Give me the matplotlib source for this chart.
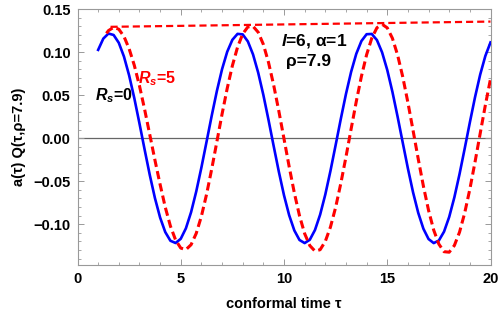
import matplotlib
matplotlib.use("Agg")
import matplotlib.pyplot as plt
from matplotlib.ticker import MultipleLocator, FixedLocator, FixedFormatter

# ---- data ----
tau_blue = [1.00, 1.25, 1.50, 1.75, 2.00, 2.25, 2.50, 2.75, 3.00, 3.25, 3.50, 3.75,
            4.00, 4.25, 4.50, 4.75, 5.00, 5.25, 5.50, 5.75, 6.00, 6.25, 6.50, 6.75,
            7.00, 7.25, 7.50, 7.75, 8.00, 8.25, 8.50, 8.75, 9.00, 9.25, 9.50, 9.75,
            10.00, 10.25, 10.50, 10.75, 11.00, 11.25, 11.50, 11.75, 12.00, 12.25, 12.50, 12.75,
            13.00, 13.25, 13.50, 13.75, 14.00, 14.25, 14.50, 14.75, 15.00, 15.25, 15.50, 15.75,
            16.00, 16.25, 16.50, 16.75, 17.00, 17.25, 17.50, 17.75, 18.00, 18.25, 18.50, 18.75,
            19.00, 19.25, 19.50, 19.75, 20.00]
a_Rs0 = [0.1027, 0.1158, 0.1217, 0.1200, 0.1109, 0.0949, 0.0730, 0.0466, 0.0172, -0.0132, -0.0428, -0.0697,
         -0.0923, -0.1092, -0.1193, -0.1219, -0.1170, -0.1048, -0.0861, -0.0620, -0.0341, -0.0041, 0.0262, 0.0549,
         0.0802, 0.1005, 0.1144, 0.1213, 0.1207, 0.1125, 0.0974, 0.0762, 0.0503, 0.0212, -0.0092, -0.0390,
         -0.0664, -0.0896, -0.1073, -0.1184, -0.1220, -0.1181, -0.1068, -0.0889, -0.0655, -0.0380, -0.0081, 0.0223,
         0.0513, 0.0771, 0.0981, 0.1130, 0.1209, 0.1212, 0.1141, 0.0998, 0.0793, 0.0539, 0.0251, -0.0052,
         -0.0352, -0.0630, -0.0868, -0.1053, -0.1173, -0.1220, -0.1190, -0.1087, -0.0916, -0.0688, -0.0418, -0.0121,
         0.0183, 0.0476, 0.0739, 0.0956, 0.1114]

tau_red = [1.40, 1.50, 1.75, 2.00, 2.25, 2.50, 2.75, 3.00, 3.25, 3.50, 3.75,
           4.00, 4.25, 4.50, 4.75, 5.00, 5.25, 5.50, 5.75, 6.00, 6.25, 6.50, 6.75,
           7.00, 7.25, 7.50, 7.75, 8.00, 8.25, 8.50, 8.75, 9.00, 9.25, 9.50, 9.75,
           10.00, 10.25, 10.50, 10.75, 11.00, 11.25, 11.50, 11.75, 12.00, 12.25, 12.50, 12.75,
           13.00, 13.25, 13.50, 13.75, 14.00, 14.25, 14.50, 14.75, 15.00, 15.25, 15.50, 15.75,
           16.00, 16.25, 16.50, 16.75, 17.00, 17.25, 17.50, 17.75, 18.00, 18.25, 18.50, 18.75,
           19.00, 19.25, 19.50, 19.75, 20.00]
a_Rs5 = [0.1219, 0.1251, 0.1289, 0.1267, 0.1183, 0.1040, 0.0848, 0.0610, 0.0335, 0.0041, -0.0255,
         -0.0538, -0.0803, -0.1023, -0.1184, -0.1278, -0.1296, -0.1239, -0.1107, -0.0908, -0.0653, -0.0358, -0.0040,
         0.0280, 0.0579, 0.0843, 0.1058, 0.1212, 0.1294, 0.1301, 0.1232, 0.1091, 0.0881, 0.0617, 0.0315,
         -0.0007, -0.0331, -0.0636, -0.0901, -0.1110, -0.1249, -0.1313, -0.1297, -0.1200, -0.1033, -0.0805, -0.0527,
         -0.0219, 0.0107, 0.0426, 0.0720, 0.0970, 0.1163, 0.1284, 0.1325, 0.1283, 0.1162, 0.0968, 0.0714,
         0.0415, 0.0090, -0.0241, -0.0557, -0.0839, -0.1069, -0.1232, -0.1320, -0.1326, -0.1248, -0.1093, -0.0870,
         -0.0593, -0.0278, 0.0054, 0.0383, 0.0689]

# straight dashed segment joining the red maxima
tau_env = [1.6, 20.0]
a_env = [0.1295, 0.1356]

xticks = [0, 5, 10, 15, 20]
xticklabels = ["0", "5", "10", "15", "20"]
yticks = [-0.10, -0.05, 0.00, 0.05, 0.10, 0.15]
yticklabels = ["\u22120.10", "\u22120.05", "0.00", "0.05", "0.10", "0.15"]

# ---- figure ----
plt.rcParams['font.family'] = ['Liberation Sans', 'DejaVu Sans']
plt.rcParams['font.weight'] = 'bold'
plt.rcParams['mathtext.fontset'] = 'custom'
plt.rcParams['mathtext.it'] = 'Liberation Sans:italic:bold'
plt.rcParams['mathtext.rm'] = 'Liberation Sans:bold'

fig = plt.figure(figsize=(5.0, 3.17), dpi=100)
ax = fig.add_axes([0.155, 0.164, 0.826, 0.807])

ax.axhline(0, color='#666666', lw=0.9, zorder=1)
ax.plot(tau_blue, a_Rs0, color='#0000ff', lw=1.9, zorder=3)
ax.plot(tau_red, a_Rs5, color='#ff0000', lw=2.2, linestyle=(0, (2.7, 1.4)), zorder=4)
ax.plot(tau_env, a_env, color='#ff0000', lw=1.6, linestyle=(0, (3.2, 1.8)), zorder=4)

ax.set_xlim(0, 20)
ax.set_ylim(-0.1475, 0.15)

ax.xaxis.set_major_locator(FixedLocator(xticks))
ax.xaxis.set_major_formatter(FixedFormatter(xticklabels))
ax.yaxis.set_major_locator(FixedLocator(yticks))
ax.yaxis.set_major_formatter(FixedFormatter(yticklabels))
ax.xaxis.set_minor_locator(MultipleLocator(1))
ax.yaxis.set_minor_locator(MultipleLocator(0.01))

ax.tick_params(which='both', direction='in', top=True, right=True, color='#999999')
ax.tick_params(which='major', length=4.5, width=0.7, labelsize=10.5, pad=5)
ax.tick_params(which='minor', length=2.5, width=0.6)
for lab in ax.get_xticklabels() + ax.get_yticklabels():
    lab.set_fontweight('bold')
for s in ax.spines.values():
    s.set_color('#999999')
    s.set_linewidth(0.8)

ax.set_xlabel("conformal time \u03c4", fontsize=10.5, fontweight='bold', labelpad=8)
ax.set_ylabel("a(\u03c4) Q(\u03c4,\u03c1=7.9)", fontsize=10.5, fontweight='bold', labelpad=5)

ax.text(0.85, 0.049, r"$R_s$=0", fontsize=11.5, fontweight='bold', color='black',
        ha='left', va='center')
ax.text(2.95, 0.069, r"$R_s$=5", fontsize=11.5, fontweight='bold', color='#ff0000',
        ha='left', va='center')
ax.text(11.45, 0.1135, r"$l$=6, " + "\u03b1=1", fontsize=12.5, fontweight='bold', ha='center', va='center')
ax.text(11.2, 0.089, "\u03c1=7.9", fontsize=12.5, fontweight='bold', ha='center', va='center')

fig.savefig("out.png", dpi=100)
